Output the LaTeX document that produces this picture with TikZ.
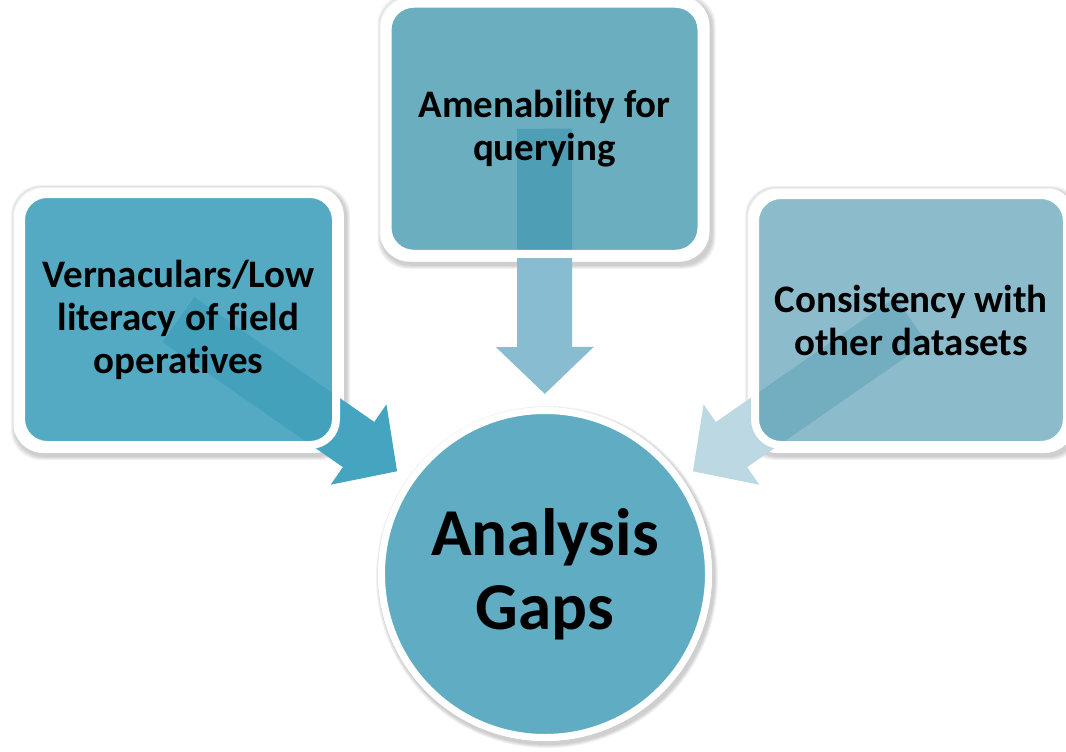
\documentclass[tikz,border=0pt]{standalone}
\usepackage{fontspec}
\setmainfont{Carlito}[Ligatures=NoCommon]
\usetikzlibrary{arrows.meta,calc,backgrounds}
\definecolor{lboxc}{RGB}{67,161,188}
\definecolor{tboxc}{RGB}{61,150,173}
\definecolor{rboxc}{RGB}{70,147,171}
\definecolor{gapc}{RGB}{95,172,195}
\definecolor{larrc}{RGB}{69,165,192}
\definecolor{tarrc}{RGB}{136,188,209}
\definecolor{rarrc}{RGB}{188,217,227}
\tikzset{
  boxst/.style={rectangle, rounded corners=26pt, draw=white, line width=8pt,
    text opacity=1, draw opacity=1, align=center, inner sep=0pt,
    font=\bfseries\fontsize{39}{43}\selectfont},
  gapst/.style={circle, draw=white, line width=7pt, fill=gapc, minimum size=327pt,
    inner sep=0pt, align=center, font=\bfseries\fontsize{67}{74}\selectfont},
  arrowst/.style={line width=55pt, shorten >=180pt,
    -{Triangle[width=95pt,length=47pt]}},
  shadowst/.style={fill=black, fill opacity=0.05, even odd rule}
}
\begin{document}
\begin{tikzpicture}[x=1pt,y=-1pt]
\useasboundingbox (0,0) rectangle (1066,752);
\node[boxst, fill=lboxc, fill opacity=0.9, minimum width=315pt, minimum height=251pt] (left) at (178.5,319.5)
  {Vernaculars/Low\\literacy of field\\operatives};
\node[boxst, fill=tboxc, fill opacity=0.77, minimum width=314pt, minimum height=250pt] (top) at (544.5,128.75)
  {Amenability for\\querying};
\node[boxst, fill=rboxc, fill opacity=0.62, minimum width=312pt, minimum height=250pt] (right) at (911,320)
  {Consistency with\\other datasets};
\node[gapst] (gap) at (545,574) {Analysis\\Gaps};
\begin{pgfonlayer}{background}
  \foreach \k in {1,2,3,4} {
    \foreach \b in {left,top,right} {
      \fill[shadowst, rounded corners=30pt]
        ($(\b.north west)+(-4-\k+2,-4-\k+3)$) rectangle ($(\b.south east)+(4+\k+2,4+\k+3)$)
        ($(\b.north west)+(-4,-4)$) rectangle ($(\b.south east)+(4,4)$);
    }
    \fill[shadowst] ($(gap.center)+(2,3)$) circle[radius=167+\k]
      (gap.center) circle[radius=167];
  }
  \draw[arrowst, draw=larrc] (left.center) -- (gap.center);
  \draw[arrowst, draw=tarrc] (top.center) -- (gap.center);
  \draw[arrowst, draw=rarrc] (right.center) -- (gap.center);
\end{pgfonlayer}
\end{tikzpicture}
\end{document}
